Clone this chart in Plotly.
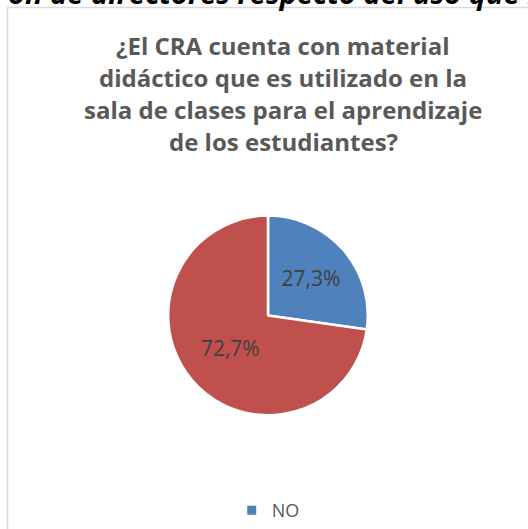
import plotly.graph_objects as go

categories = ["NO", "SI"]
values = [3, 8]
colors = ["#4F81BD", "#C0504D"]
legend_items = ["NO"]
title_lines = [
    "¿El CRA cuenta con material",
    "didáctico que es utilizado en la",
    "sala de clases para el aprendizaje",
    "de los estudiantes?",
]
top_text = "ón de directores respecto del uso que h"

W, H = 528, 529

fig = go.Figure()
fig.add_trace(go.Pie(
    labels=categories,
    values=values,
    marker=dict(colors=colors, line=dict(color="white", width=2.5)),
    sort=False,
    direction="clockwise",
    rotation=0,
    textinfo="percent",
    texttemplate="%{percent:.1%}",
    textposition="inside",
    insidetextorientation="horizontal",
    textfont=dict(family="Open Sans", size=21, color="#404040"),
    domain=dict(x=[168 / W, 368 / W], y=[(H - 416) / H, (H - 216) / H]),
    showlegend=False,
    hoverinfo="label+percent",
))

for name in legend_items:
    idx = categories.index(name)
    fig.add_trace(go.Scatter(
        x=[None], y=[None], mode="markers", name=name,
        marker=dict(symbol="square", size=9, color=colors[idx]),
        showlegend=True,
    ))

annotations = []
for i, line in enumerate(title_lines):
    annotations.append(dict(
        text="<b>" + line + "</b>", x=283 / W, xref="paper", xanchor="center",
        y=1 - (46 + 32 * i) / H, yref="paper", yanchor="middle", showarrow=False,
        font=dict(family="Open Sans", size=24, color="#595959"),
    ))
annotations.append(dict(
    text="<b><i>" + top_text + "</i></b>", x=276 / W, xref="paper", xanchor="center",
    y=1 + 29 / H, yref="paper", yanchor="top", showarrow=False,
    font=dict(family="Open Sans", size=29, color="#000000"),
))

fig.update_layout(
    width=W, height=H,
    margin=dict(l=0, r=0, t=0, b=0),
    paper_bgcolor="white", plot_bgcolor="white",
    separators=",.",
    xaxis=dict(visible=False), yaxis=dict(visible=False),
    showlegend=True,
    legend=dict(orientation="h", x=0.508, xanchor="center", y=(H - 511) / H, yanchor="middle",
                font=dict(family="Open Sans", size=18, color="#595959"),
                itemwidth=30, bgcolor="rgba(0,0,0,0)"),
    annotations=annotations,
    shapes=[dict(type="rect", xref="paper", yref="paper",
                 x0=7.5 / W, x1=1.05, y0=-0.05, y1=1 - 7.5 / H,
                 line=dict(color="#D9D9D9", width=1.5), fillcolor="rgba(0,0,0,0)", layer="below")],
)

fig.write_html("out.html", config={"displayModeBar": False},
               post_script="document.body.style.margin='0';document.body.style.overflow='hidden';")
